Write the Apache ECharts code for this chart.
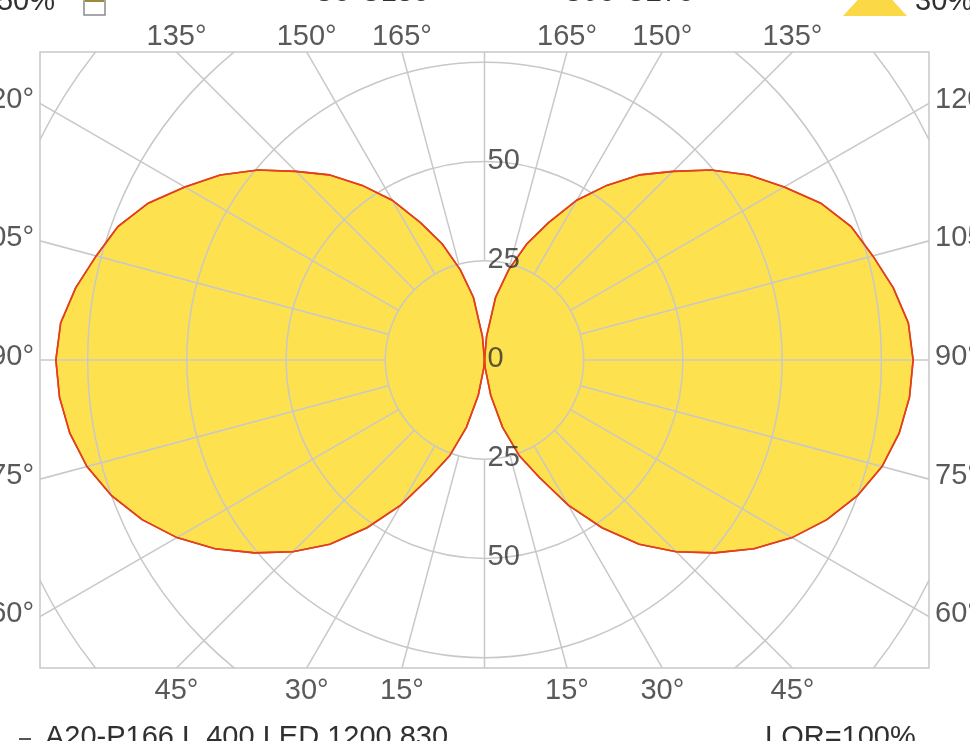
<!DOCTYPE html>
<html><head><meta charset="utf-8">
<script src="https://cdn.jsdelivr.net/npm/echarts@6/dist/echarts.min.js"></script>
<style>html,body{margin:0;padding:0;background:#fff;overflow:hidden}#c{width:970px;height:741px}</style>
</head><body><div id="c"></div>
<script>
// gamma angles (deg, 0 = nadir) and luminous intensity (cd/klm)
const gammaDeg = [0,5,10,15,20,25,30,35,40,45,50,55,60,65,70,75,80,85,90,95,100,105,110,115,120,125,130,135,140,145,150,155,160,165,170,175,180];
const c0c180  = [0,2,9,17.5,25.7,32.6,42.2,51.6,60.6,68.3,75.6,82.9,89.5,95.2,100,103.7,106.1,107.5,108,107.2,104.6,101.3,98.3,93.5,87.2,81.3,74.5,67.2,60.9,53.7,46.5,38.2,31.1,23.5,16,6,0];
const c90c270 = [0,2,9,17.5,25.7,32.6,42.2,51.6,60.6,68.3,75.6,82.9,89.5,95.2,100,103.7,106.1,107.5,108,107.2,104.6,101.3,98.3,93.5,87.2,81.3,74.5,67.2,60.9,53.7,46.5,38.2,31.1,23.5,16,6,0];
const ringValues = [25,50,75,100,125];
const ringLabelValues = [0,25,50];
const spokeAngles = [0,15,30,45,60,75,90,105,120,135,150,165,180];
const angleLabelValues = [15,30,45,60,75,90,105,120,135,150,165];

const halfX = 112, halfY = 77.6;
const FONT = 'Liberation Sans';
const TXT = '#303030';
const GRID = '#c8c8c8';
const rad = d => d * Math.PI / 180;

function lobePoints(vals, side) {
  return gammaDeg.map((g, i) => [side * vals[i] * Math.sin(rad(g)), -vals[i] * Math.cos(rad(g))]);
}
function planePoints(vals) {
  return { right: lobePoints(vals, 1), left: lobePoints(vals, -1) };
}

const chart = echarts.init(document.getElementById('c'), null, {renderer: 'canvas'});

function polySeries(name, vals, fill, stroke, z) {
  const p = planePoints(vals);
  return {
    type: 'custom', name: name, coordinateSystem: 'cartesian2d', clip: true, z: z,
    data: [[0, 0]], silent: true,
    renderItem: function (params, api) {
      const kids = [];
      [p.right, p.left].forEach(pts => {
        kids.push({
          type: fill ? 'polygon' : 'polyline',
          shape: { points: pts.map(pt => api.coord(pt)) },
          style: fill ? { fill: fill, stroke: 'none' } : { fill: 'none', stroke: stroke, lineWidth: 1.6 }
        });
      });
      return { type: 'group', children: kids };
    }
  };
}

const gridSeries = {
  type: 'custom', name: 'grid', coordinateSystem: 'cartesian2d', clip: true, z: 3,
  data: [[0, 0]], silent: true,
  renderItem: function (params, api) {
    const c = api.coord([0, 0]);
    const kids = [];
    ringValues.forEach(v => {
      const r = api.size([v, 0])[0];
      kids.push({ type: 'circle', shape: { cx: c[0], cy: c[1], r: r }, style: { fill: 'none', stroke: GRID, lineWidth: 1.5 } });
    });
    spokeAngles.forEach(g => {
      [1, -1].forEach(s => {
        if ((g === 0 || g === 180) && s === -1) return;
        const a = api.coord([s * 25 * Math.sin(rad(g)), -25 * Math.cos(rad(g))]);
        const b = api.coord([s * 300 * Math.sin(rad(g)), -300 * Math.cos(rad(g))]);
        kids.push({ type: 'line', shape: { x1: a[0], y1: a[1], x2: b[0], y2: b[1] }, style: { stroke: GRID, lineWidth: 1.5 } });
      });
    });
    return { type: 'group', children: kids };
  }
};

const ringLabelData = [];
ringLabelValues.forEach(v => {
  if (v === 0) ringLabelData.push([0, 0, '0']);
  else { ringLabelData.push([0, v, String(v)]); ringLabelData.push([0, -v, String(v)]); }
});

const angleLabelData = [];
angleLabelValues.forEach(g => {
  [1, -1].forEach(s => {
    const sx = Math.sin(rad(g)), cy = -Math.cos(rad(g));
    const tX = halfX / sx;
    const tY = Math.abs(cy) < 1e-9 ? Infinity : halfY / Math.abs(cy);
    let pt, pos, dist;
    if (tX <= tY) { pt = [s * halfX, cy * tX]; pos = s > 0 ? 'right' : 'left'; dist = 6; }
    else { pt = [s * sx * tY, cy * tY]; pos = cy > 0 ? 'top' : 'bottom'; dist = cy > 0 ? 1 : 8; }
    angleLabelData.push({ value: [pt[0], pt[1], g + '°'], label: { position: pos, distance: dist, offset: (pos === 'left' || pos === 'right') ? [0, -3] : [0, 0] } });
  });
});

const headFont = '29px "Liberation Sans"';
const option = {
  backgroundColor: '#ffffff',
  animation: false,
  grid: { left: 40, right: 41, top: 52, bottom: 73, show: true, borderColor: GRID, borderWidth: 1.5, backgroundColor: 'transparent' },
  xAxis: { type: 'value', min: -halfX, max: halfX, show: false },
  yAxis: { type: 'value', min: -halfY, max: halfY, show: false },
  series: [
    polySeries('C0-C180 fill', c0c180, '#fde14f', null, 1),
    polySeries('C90-C270 fill', c90c270, '#fde14f', null, 2),
    gridSeries,
    polySeries('C0-C180', c0c180, null, '#e2401c', 4),
    polySeries('C90-C270', c90c270, null, '#e2401c', 5),
    {
      type: 'scatter', name: 'ringLabels', symbolSize: 0, clip: false, z: 6, silent: true,
      data: ringLabelData,
      label: { show: true, position: 'right', distance: 3, offset: [0, -1], formatter: p => p.value[2], fontSize: 29, color: TXT, fontFamily: FONT }
    },
    {
      type: 'scatter', name: 'angleLabels', symbolSize: 0, clip: false, z: 6, silent: true,
      data: angleLabelData,
      label: { show: true, formatter: p => p.value[2], fontSize: 29, color: TXT, fontFamily: FONT }
    }
  ],
  graphic: [
    { type: 'text', style: { x: 55, y: 2, text: '50%', textAlign: 'right', textVerticalAlign: 'middle', font: headFont, fill: TXT } },
    { type: 'rect', shape: { x: 84, y: -10, width: 21, height: 25 }, style: { fill: '#ffffff', stroke: '#8a8a8a', lineWidth: 1.5 } },
    { type: 'rect', shape: { x: 85, y: -10, width: 19, height: 12 }, style: { fill: '#9a8a3e', stroke: 'none' } },
    { type: 'text', style: { x: 313, y: -7, text: 'C0-C180', textAlign: 'left', textVerticalAlign: 'middle', font: headFont, fill: TXT } },
    { type: 'text', style: { x: 562, y: -7, text: 'C90-C270', textAlign: 'left', textVerticalAlign: 'middle', font: headFont, fill: TXT } },
    { type: 'polygon', shape: { points: [[843, 16], [907, 16], [875, -19]] }, style: { fill: '#fbd846', stroke: 'none' } },
    { type: 'text', style: { x: 915, y: 2, text: '30%', textAlign: 'left', textVerticalAlign: 'middle', font: headFont, fill: TXT } },
    { type: 'line', shape: { x1: 19, y1: 739, x2: 31, y2: 739 }, style: { stroke: '#555555', lineWidth: 2 } },
    { type: 'text', style: { x: 45, y: 738, text: 'A20-P166 L 400 LED 1200 830', textAlign: 'left', textVerticalAlign: 'middle', font: headFont, fill: TXT } },
    { type: 'text', style: { x: 765, y: 738, text: 'LOR=100%', textAlign: 'left', textVerticalAlign: 'middle', font: headFont, fill: TXT } }
  ]
};
chart.setOption(option);
</script></body></html>
